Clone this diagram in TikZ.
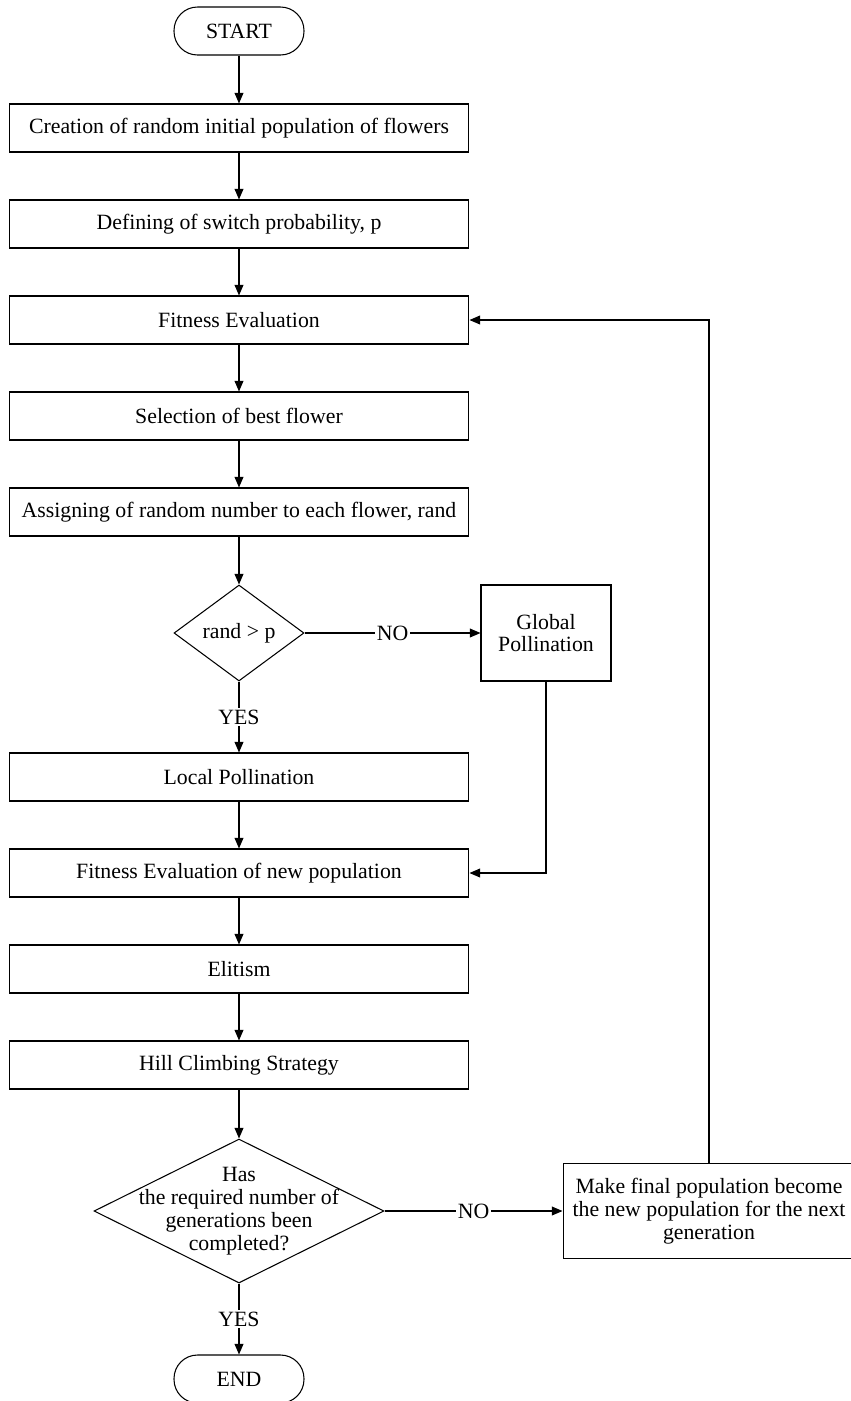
\documentclass[tikz,border=0pt]{standalone}
\usepackage{fontspec}
\setmainfont{Liberation Serif}
\usetikzlibrary{arrows.meta,shapes.geometric,positioning}

\tikzset{
  block/.style={draw, rectangle, minimum width=9.2cm, minimum height=0.96cm, align=center},
  terminal/.style={draw, rectangle, rounded corners=0.47cm, minimum width=2.6cm, minimum height=0.96cm},
  decision/.style={draw, diamond, inner sep=0pt},
  flow/.style={draw, -{Triangle[length=6pt,width=5pt]}},
  tag/.style={fill=white, inner sep=1pt}
}

\begin{document}
\begin{tikzpicture}[x=0.02cm, y=-0.02cm, line width=0.6pt, font=\fontsize{12.4}{13}\selectfont]
            \useasboundingbox (0,0) rectangle (850,1401);

            % main column
            \node[terminal] (start) at (239,31) {START};
            \node[block] (init) at (239,128) {Creation of random initial population of flowers};
            \node[block] (switch) at (239,224) {Defining of switch probability, p};
            \node[block] (eval) at (239,320) {Fitness Evaluation};
            \node[block] (best) at (239,416) {Selection of best flower};
            \node[block] (assign) at (239,512) {Assigning of random number to each flower, rand};
            \node[decision, minimum width=2.6cm, minimum height=1.92cm] (rand) at (239,633) {rand > p};
            \node[block] (local) at (239,777) {Local Pollination};
            \node[block] (neweval) at (239,873) {Fitness Evaluation of new population};
            \node[block] (elite) at (239,969) {Elitism};
            \node[block] (hill) at (239,1065) {Hill Climbing Strategy};
            \node[decision, minimum width=5.8cm, minimum height=2.88cm,
                  label={[align=center]center:Has\\the required number of\\generations been\\completed?}] (done) at (239,1211) {};
            \node[terminal] (finish) at (239,1379) {END};

            % side boxes
            \node[draw, align=center, minimum width=2.6cm, minimum height=1.92cm] (global) at (546,633) {Global\\Pollination};
            \node[draw, align=center, minimum width=5.84cm, minimum height=1.9cm] (next) at (709,1211) {Make final population become\\the new population for the next\\generation};

            % arrows
            \draw[flow] (start) -- (init);
            \draw[flow] (init) -- (switch);
            \draw[flow] (switch) -- (eval);
            \draw[flow] (eval) -- (best);
            \draw[flow] (best) -- (assign);
            \draw[flow] (assign) -- (rand);
            \draw[flow] (rand) -- node[tag] {NO} (global);
            \draw[flow] (rand) -- node[tag] {YES} (local);
            \draw[flow] (local) -- (neweval);
            \draw[flow] (global.south) |- (neweval.east);
            \draw[flow] (neweval) -- (elite);
            \draw[flow] (elite) -- (hill);
            \draw[flow] (hill) -- (done);
            \draw[flow] (done) -- node[tag] {NO} (next);
            \draw[flow] (done) -- node[tag] {YES} (finish);
            \draw[flow] (next.north) |- (eval.east);
        \end{tikzpicture}
\end{document}
